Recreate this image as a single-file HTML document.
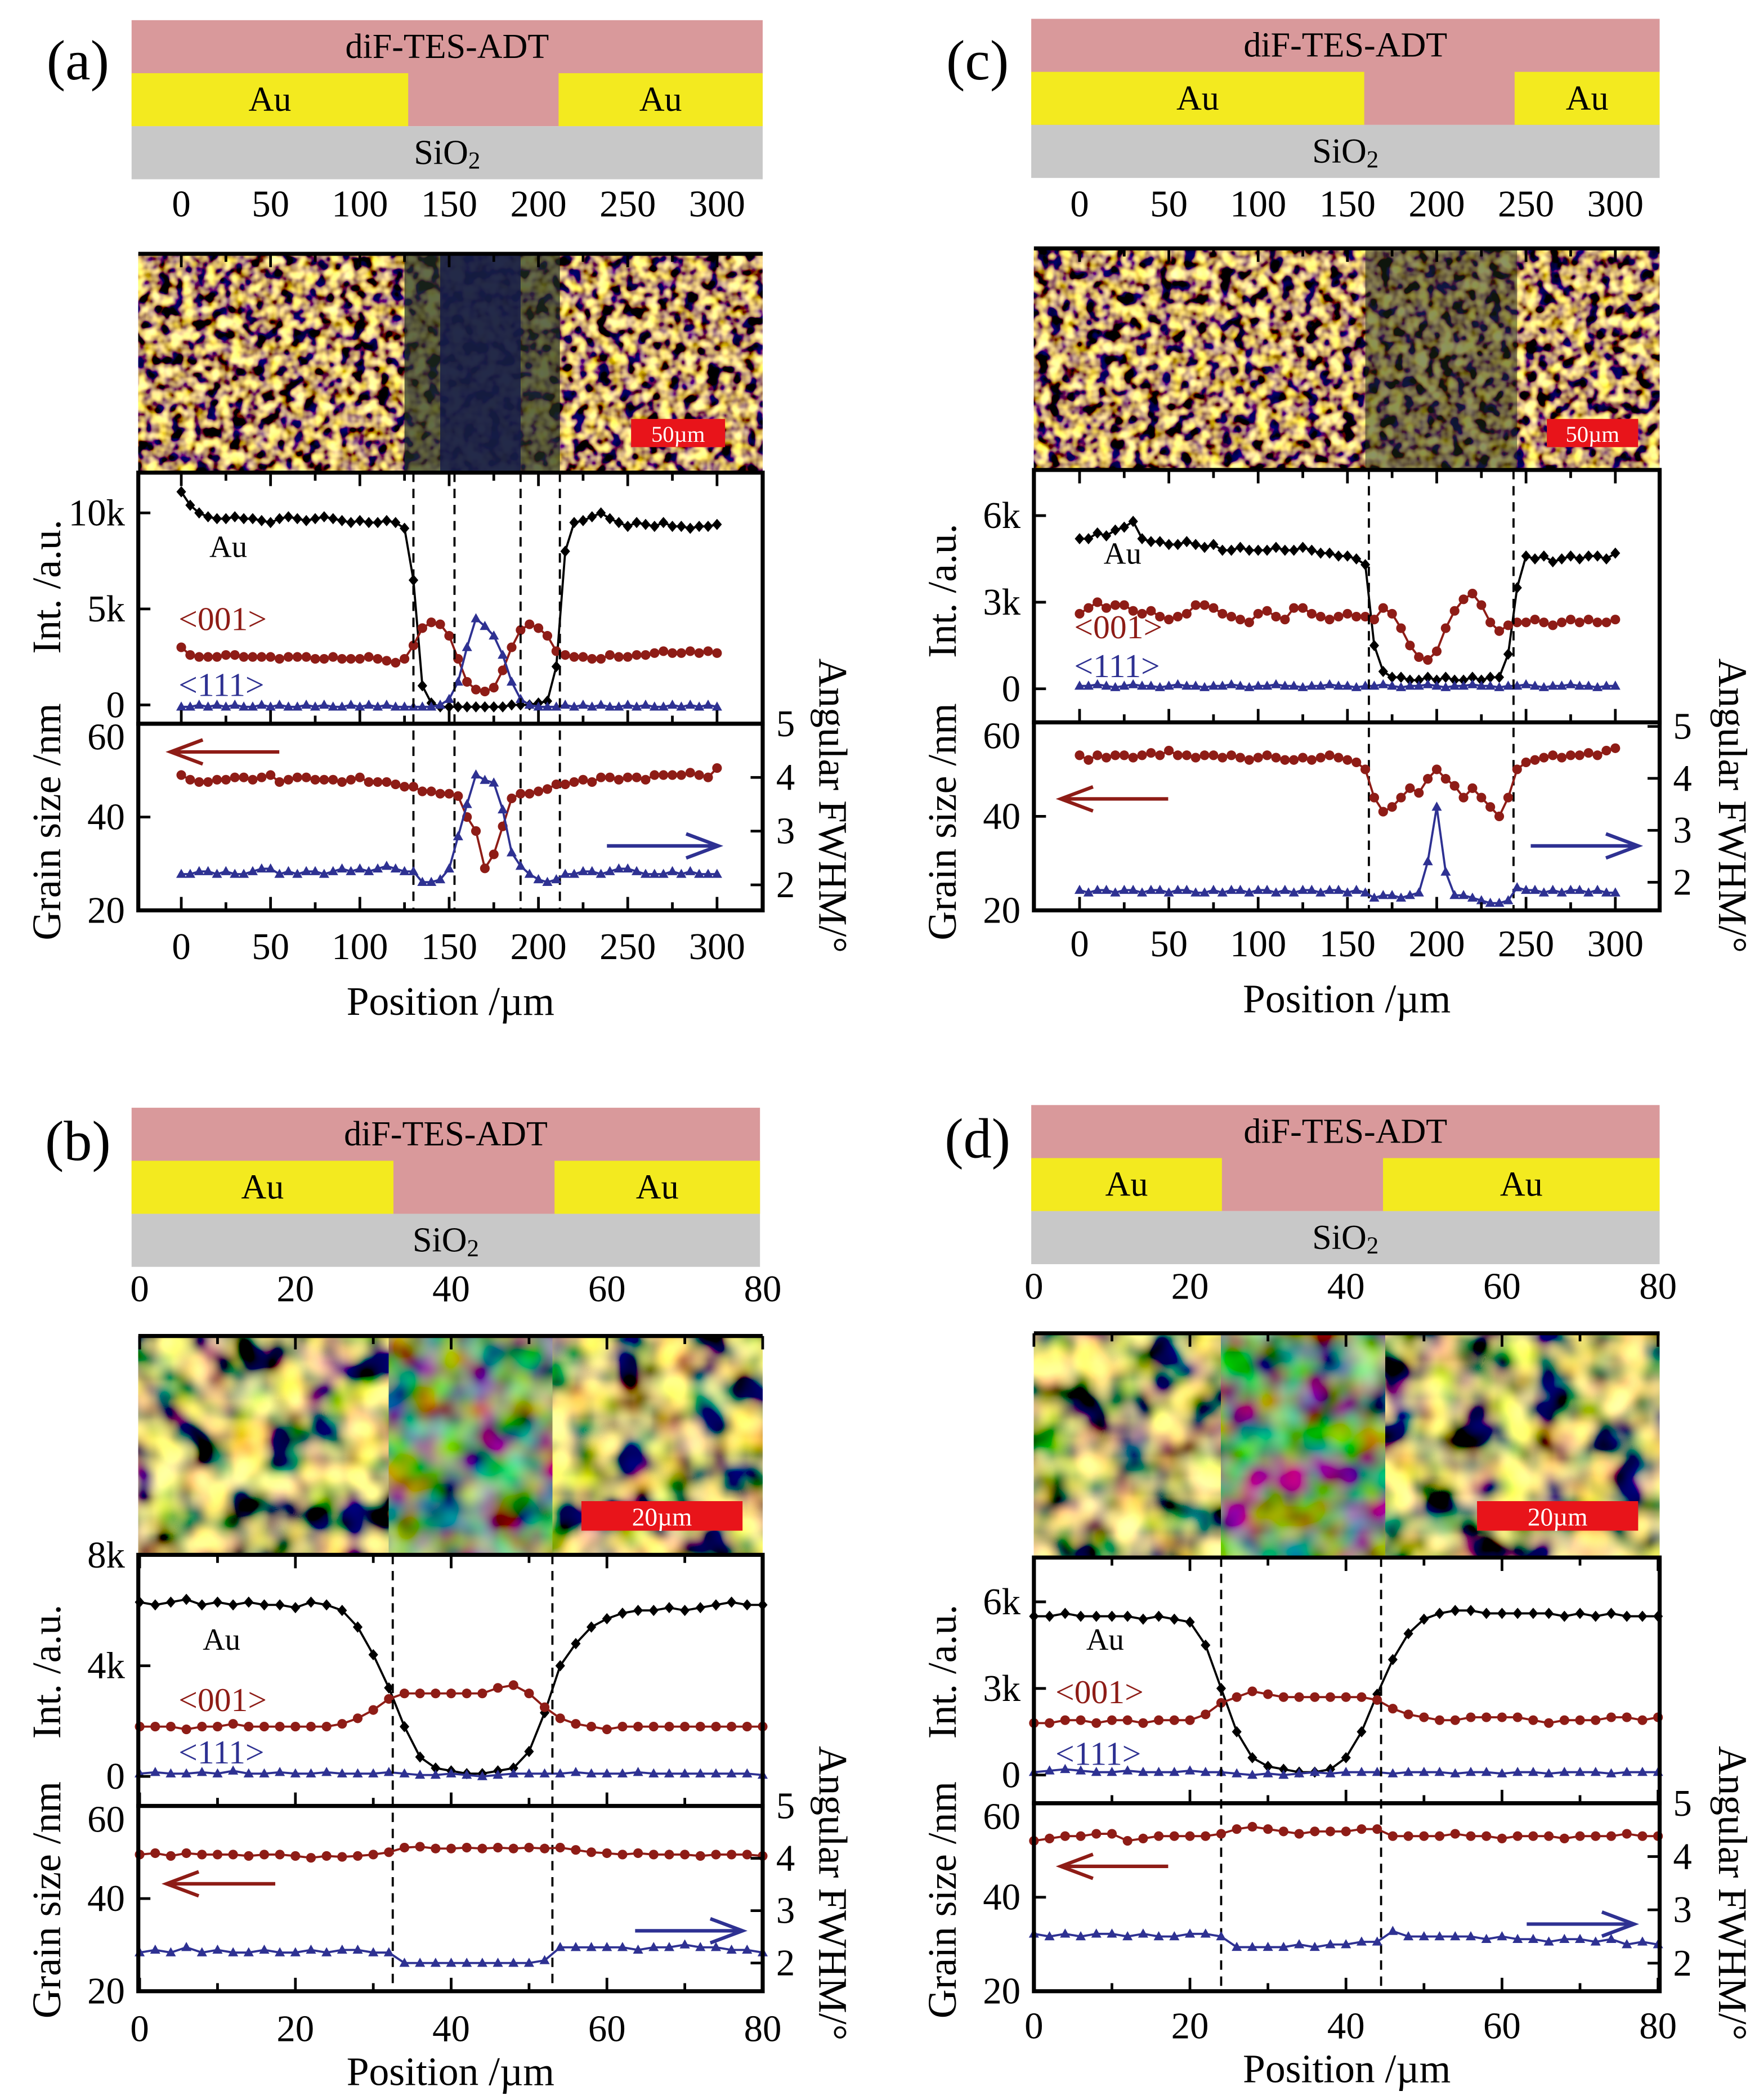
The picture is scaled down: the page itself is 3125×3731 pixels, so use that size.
<!DOCTYPE html>
<html><head><meta charset="utf-8"><style>
html,body{margin:0;padding:0;background:#fff;}
svg{display:block;font-family:"Liberation Serif",serif;}
</style></head><body>
<svg id="fig" xmlns="http://www.w3.org/2000/svg" width="3125" height="3731" viewBox="0 0 1310 1564" font-family="Liberation Serif, serif">
<defs>
<filter id="fineGrain" x="0" y="0" width="1" height="1" filterUnits="objectBoundingBox">
<feTurbulence type="fractalNoise" baseFrequency="0.11" numOctaves="2" seed="4"/>
<feColorMatrix type="matrix" values="3.8 0 0 0 -1.4  3.4 0 0 0 -1.4  0.6 0 0.5 0 -0.42  0 0 0 0 1"/>
</filter>
<filter id="coarseGrain" x="0" y="0" width="1" height="1" filterUnits="objectBoundingBox">
<feTurbulence type="fractalNoise" baseFrequency="0.035" numOctaves="2" seed="7"/>
<feColorMatrix type="matrix" values="3.3 0 0 0 -1.15  2.4 0.9 0 0 -1.2  0.5 0 0.5 0 -0.35  0 0 0 0 1"/>
</filter>
<filter id="darkGrain" x="0" y="0" width="1" height="1" filterUnits="objectBoundingBox">
<feTurbulence type="fractalNoise" baseFrequency="0.035" numOctaves="2" seed="11"/>
<feColorMatrix type="matrix" values="1.1 0 0 0 -0.35  0 1.4 0 0 -0.4  0 0 0.9 0 -0.3  0 0 0 0 1"/>
</filter>
</defs>
</svg>
<script>
// ---------- panel (a) data ----------
const stepA = 5;
const auA = [11.1,10.4,10.0,9.8,9.7,9.7,9.8,9.7,9.7,9.6,9.5,9.7,9.8,9.7,9.6,9.7,9.8,9.7,9.6,9.5,9.6,9.5,9.5,9.6,9.5,9.2,6.5,1.0,0.1,-0.1,-0.1,-0.1,-0.1,-0.1,-0.1,-0.1,-0.1,0,0,0,0.1,0.2,2.0,8.0,9.5,9.6,9.8,10.0,9.7,9.5,9.3,9.5,9.4,9.3,9.5,9.3,9.3,9.2,9.3,9.3,9.4];
const p001A = [3.0,2.6,2.5,2.5,2.5,2.6,2.6,2.5,2.5,2.5,2.5,2.4,2.5,2.5,2.5,2.4,2.4,2.5,2.4,2.4,2.4,2.5,2.4,2.3,2.2,2.4,3.1,4.0,4.3,4.2,3.6,2.4,1.2,0.8,0.7,0.9,1.8,3.0,3.9,4.2,4.0,3.6,2.8,2.6,2.5,2.5,2.4,2.4,2.6,2.5,2.5,2.6,2.6,2.7,2.8,2.7,2.7,2.8,2.7,2.8,2.7];
const p111A = [-0.1,-0.1,0,-0.1,0,-0.1,0,-0.1,-0.1,0,-0.1,0,-0.1,-0.1,0,-0.1,0,-0.1,-0.1,0,-0.1,0,-0.1,0,-0.1,-0.1,-0.1,-0.1,-0.1,0.0,0.3,1.2,3.0,4.5,4.1,3.6,2.6,1.2,0.3,0.0,-0.1,-0.1,-0.1,0,-0.1,0,-0.1,0,-0.1,-0.1,0,-0.1,0,-0.1,-0.1,0,-0.1,0,-0.1,0,-0.1];
const grainA = [49,48,47.5,47.5,48,48,48.5,48.5,48,48.5,49,47.5,48,48.5,48.5,48,48,48,47.5,48,48.5,47.5,47.5,47.5,47,46.5,46.5,45.5,45.5,45,45,44.5,40,37,29,32,38,44,45,45,45.5,46,47,47,47.5,48,47.5,48.5,48.5,48,48.5,48.5,48,49,49,49,49,49.5,49,48.5,50.5];
const fwhmA = [2.2,2.2,2.25,2.25,2.2,2.25,2.2,2.2,2.25,2.3,2.3,2.2,2.25,2.2,2.25,2.25,2.2,2.25,2.3,2.25,2.3,2.25,2.3,2.35,2.3,2.25,2.25,2.05,2.05,2.1,2.3,2.9,3.5,4.05,3.95,3.9,3.4,2.6,2.35,2.2,2.1,2.05,2.1,2.2,2.2,2.25,2.25,2.2,2.25,2.3,2.3,2.25,2.2,2.2,2.2,2.25,2.2,2.25,2.2,2.2,2.2];
const dashA = [130,153,190,212];
// ---------- panel (c) data ----------
const stepC = 5;
const auC = [5.2,5.2,5.4,5.3,5.5,5.6,5.8,5.2,5.1,5.1,5.0,5.0,5.1,5.0,4.9,5.0,4.8,4.8,4.9,4.8,4.8,4.8,4.9,4.8,4.8,4.9,4.8,4.7,4.7,4.6,4.6,4.5,4.3,1.5,0.6,0.4,0.4,0.3,0.3,0.4,0.3,0.4,0.3,0.3,0.4,0.3,0.4,0.4,1.2,3.5,4.6,4.5,4.6,4.4,4.5,4.6,4.5,4.6,4.6,4.5,4.7];
const p001C = [2.6,2.8,3.0,2.8,2.9,2.9,2.7,2.6,2.7,2.5,2.4,2.5,2.6,2.9,2.9,2.8,2.6,2.5,2.4,2.3,2.6,2.7,2.5,2.4,2.8,2.8,2.6,2.5,2.4,2.5,2.6,2.5,2.5,2.4,2.8,2.6,2.1,1.5,1.1,1.0,1.3,2.1,2.7,3.1,3.3,2.9,2.3,2.0,2.2,2.3,2.3,2.4,2.3,2.2,2.3,2.4,2.3,2.4,2.3,2.3,2.4];
const p111C = [0.1,0.1,0.15,0.1,0.05,0.1,0.15,0.1,0.1,0.05,0.1,0.15,0.1,0.1,0.05,0.1,0.1,0.15,0.1,0.05,0.1,0.1,0.15,0.1,0.1,0.05,0.1,0.1,0.15,0.1,0.1,0.05,0.1,0.1,0.15,0.1,0.05,0.1,0.1,0.15,0.1,0.05,0.1,0.1,0.15,0.1,0.1,0.05,0.1,0.1,0.15,0.1,0.05,0.1,0.1,0.15,0.1,0.1,0.05,0.1,0.1];
const grainC = [53,52,53,52.5,53,53,52.5,53,53.5,53,54,53,53,52.5,53,53,52.5,53,52.5,52,52.5,53,52.5,52,52,52.5,52,52.5,53,52.5,52,51.5,50,44,41,42,44,46,45,48,50,48,46.5,44,46,44,42,40,44,50,51.5,52,52.5,53,52.5,53,53,53.5,53,54,54.5];
const fwhmC = [1.85,1.8,1.85,1.85,1.8,1.85,1.85,1.8,1.85,1.85,1.8,1.85,1.85,1.8,1.8,1.85,1.8,1.85,1.85,1.8,1.85,1.85,1.8,1.85,1.8,1.85,1.85,1.8,1.85,1.85,1.8,1.85,1.8,1.7,1.75,1.75,1.7,1.75,1.8,2.4,3.45,2.2,1.75,1.75,1.7,1.65,1.6,1.6,1.65,1.9,1.85,1.85,1.8,1.85,1.8,1.85,1.85,1.8,1.85,1.8,1.8];
const dashC = [162,243];
// ---------- panel (b) data ----------
const stepB = 2;
const auB = [6.3,6.2,6.3,6.4,6.2,6.3,6.2,6.3,6.2,6.2,6.1,6.3,6.2,6.0,5.4,4.4,3.2,1.8,0.7,0.3,0.2,0.1,0.1,0.2,0.3,0.9,2.3,4.0,4.8,5.4,5.7,5.9,6.0,6.0,6.1,6.0,6.1,6.2,6.3,6.2,6.2];
const p001B = [1.8,1.8,1.8,1.7,1.8,1.8,1.9,1.8,1.8,1.8,1.8,1.8,1.8,1.9,2.1,2.4,2.8,3.0,3.0,3.0,3.0,3.0,3.0,3.2,3.3,3.0,2.5,2.1,1.9,1.8,1.7,1.8,1.8,1.8,1.8,1.8,1.8,1.8,1.8,1.8,1.8];
const p111B = [0.1,0.15,0.1,0.1,0.15,0.1,0.2,0.1,0.1,0.15,0.1,0.1,0.15,0.1,0.1,0.1,0.15,0.1,0.05,0.05,0.1,0.05,0.0,0.05,0.1,0.1,0.1,0.1,0.15,0.1,0.1,0.1,0.15,0.1,0.1,0.1,0.1,0.1,0.1,0.1,0.05];
const grainB = [49.5,49.8,49.2,49.8,49.5,49.5,49.5,49.2,49.5,49.5,49.2,48.8,49.2,49,49.2,49.5,50,51,51.2,50.8,50.8,51,50.8,51,50.8,51,50.8,51,50.5,50,49.8,49.5,49.8,49.5,49.5,49.5,49.2,49.5,49.5,49.5,49.2];
const fwhmB = [2.2,2.25,2.2,2.3,2.2,2.25,2.2,2.2,2.25,2.2,2.2,2.25,2.2,2.25,2.25,2.2,2.2,2.0,2.0,2.0,2.0,2.0,2.0,2.0,2.0,2.0,2.05,2.3,2.3,2.3,2.3,2.3,2.25,2.3,2.3,2.35,2.3,2.3,2.25,2.25,2.2];
const dashB = [32.5,53];
// ---------- panel (d) data ----------
const stepD = 2;
const auD = [5.5,5.5,5.6,5.5,5.5,5.5,5.5,5.4,5.5,5.4,5.3,4.5,3.0,1.5,0.6,0.3,0.2,0.1,0.1,0.2,0.6,1.5,2.8,4.0,4.9,5.4,5.6,5.7,5.7,5.6,5.6,5.6,5.6,5.6,5.5,5.6,5.5,5.6,5.5,5.5,5.5];
const p001D = [1.8,1.8,1.9,1.9,1.8,1.9,1.9,1.8,1.9,1.9,1.9,2.1,2.5,2.7,2.9,2.8,2.7,2.7,2.7,2.7,2.7,2.7,2.6,2.3,2.1,2.0,1.9,1.9,2.0,2.0,2.0,2.0,1.9,1.8,1.9,1.9,1.9,2.0,2.0,1.9,2.0];
const p111D = [0.1,0.15,0.2,0.15,0.1,0.1,0.15,0.1,0.1,0.1,0.15,0.1,0.1,0.05,0.0,0.05,0.0,0.05,0.1,0.05,0.1,0.1,0.1,0.05,0.1,0.1,0.1,0.05,0.1,0.1,0.05,0.1,0.1,0.05,0.1,0.1,0.1,0.05,0.1,0.1,0.1];
const grainD = [52,52.5,53,53,53.5,53.5,52,52.5,53,53,53,53,53.5,54.5,55,54.5,54,53.5,54,54,54,54.5,54.5,53,53,53,53,53.5,53,53,52.5,53,53,53,52.5,53,53,53,53.5,53,53];
const fwhmD = [2.55,2.5,2.55,2.5,2.55,2.55,2.5,2.55,2.5,2.5,2.55,2.55,2.5,2.3,2.3,2.3,2.3,2.35,2.3,2.35,2.35,2.4,2.4,2.6,2.5,2.5,2.5,2.5,2.5,2.45,2.5,2.45,2.45,2.4,2.45,2.45,2.4,2.45,2.35,2.4,2.35];
const dashD = [24,44.5];
// ---------- tick labels ----------
const xTicksWide = [0,50,100,150,200,250,300];
const xTicksNarrow = [0,20,40,60,80];
const intTicksA = [0,5,10]; const intLabelsA = ['0','5k','10k'];
const intTicksC = [0,3,6]; const intLabelsC = ['0','3k','6k'];
const intTicksB = [0,4,8]; const intLabelsB = ['0','4k','8k'];
const intTicksD = [0,3,6]; const intLabelsD = ['0','3k','6k'];
const grainTicks = [20,40,60];
const fwhmTicks = [2,3,4,5];

const NS = 'http://www.w3.org/2000/svg';
const svg = document.getElementById('fig');
function mk(tag, attrs, parent){
  const e = document.createElementNS(NS, tag);
  for (const k in attrs) e.setAttribute(k, attrs[k]);
  (parent||svg).appendChild(e);
  return e;
}
const RED = '#8e1c16', BLUE = '#2e3192';
const FS = 28;

function marker(g, shape, x, y, color){
  let m;
  if (shape==='diamond') m = mk('polygon',{points:`${x},${y-4.2} ${x+3.6},${y} ${x},${y+4.2} ${x-3.6},${y}`,fill:color},g);
  else if (shape==='circle') m = mk('circle',{cx:x,cy:y,r:3.6,fill:color},g);
  else m = mk('polygon',{points:`${x},${y-4} ${x+3.8},${y+2.8} ${x-3.8},${y+2.8}`,fill:color},g);
  return m;
}
function series(g, name, step, vals, xf, yf, color, shape){
  const s = mk('g',{},g);
  
  
  const pts = vals.map((v,i)=>[xf(i*step), yf(v)]);
  const line = mk('polyline',{points:pts.map(p=>p.join(',')).join(' '),fill:'none',stroke:color,'stroke-width':1.6},s);
  
  
  pts.forEach(p=>{
    const m = marker(s, shape, p[0], p[1], color);
    
    
  });
}
function text(g, x, y, str, size, anchor, fill, extra){
  const t = mk('text',Object.assign({x:x,y:y,'font-size':size,'text-anchor':anchor||'middle',fill:fill||'#000','dominant-baseline':'central','font-family':'Liberation Serif, serif'},extra||{}),g);
  t.textContent = str;
  return t;
}
function arrow(g, x1, x2, y, color, dir){
  const a = mk('g',{stroke:color,'stroke-width':2.6,fill:'none'},g);
  mk('line',{x1:x1,y1:y,x2:x2,y2:y},a);
  const tip = dir<0? x1 : x2; const d = dir<0? 1 : -1;
  mk('polyline',{points:`${tip+d*24},${y-9} ${tip},${y} ${tip+d*24},${y+9}`},a);
  return a;
}

function panel(c){
  const g = mk('g',{});
  
  
  const X0=c.x0, X1=c.x1;
  const lab = text(g, c.labX, c.labY, '('+c.id+')', 42, 'middle');
  
  
  const sch = mk('g',{},g);
  
  
  const sy=c.schY;
  const pink = mk('rect',{x:c.sx0,y:sy,width:c.sx1-c.sx0,height:c.sh*2,fill:'#d9999b'},sch);
  
  
  const auL = mk('rect',{x:c.sx0,y:sy+c.sh,width:c.gapL-c.sx0,height:c.sh,fill:'#f3ea1f'},sch);
  
  
  const auR = mk('rect',{x:c.gapR,y:sy+c.sh,width:c.sx1-c.gapR,height:c.sh,fill:'#f3ea1f'},sch);
  
  
  const sio = mk('rect',{x:c.sx0,y:sy+2*c.sh,width:c.sx1-c.sx0,height:c.sh,fill:'#c8c8c8'},sch);
  
  
  text(sch,(c.sx0+c.sx1)/2,sy+c.sh*0.5,'diF-TES-ADT',26);
  text(sch,(c.sx0+c.gapL)/2,sy+c.sh*1.5,'Au',26);
  text(sch,(c.gapR+c.sx1)/2,sy+c.sh*1.5,'Au',26);
  const st = text(sch,(c.sx0+c.sx1)/2,sy+c.sh*2.5,'SiO',26);
  const sub = mk('tspan',{'font-size':18,dy:6},st); sub.textContent='2';
  c.xt.forEach(v=>{ text(g,c.xf(v),c.topLabY,String(v),FS); });
  const ph = mk('g',{},g);
  
  
  mk('rect',{x:X0,y:c.phY0,width:X1-X0,height:c.phY1-c.phY0,filter:c.fine?'url(#fineGrain)':'url(#coarseGrain)'},ph);
  const gx0=c.xf(c.photoMid[0]), gx1=c.xf(c.photoMid[1]);
  if (c.fine) {
    mk('rect',{x:gx0,y:c.phY0,width:gx1-gx0,height:c.phY1-c.phY0,fill:c.midColor,opacity:c.midOp},ph);
    if (c.core) mk('rect',{x:c.xf(c.core[0]),y:c.phY0,width:c.xf(c.core[1])-c.xf(c.core[0]),height:c.phY1-c.phY0,fill:'#141a4a',opacity:0.8},ph);
  } else {
    mk('rect',{x:gx0,y:c.phY0,width:gx1-gx0,height:c.phY1-c.phY0,filter:'url(#darkGrain)'},ph);
  }
  mk('line',{x1:X0,y1:c.phY0,x2:X1,y2:c.phY0,stroke:'#000','stroke-width':3},ph);
  c.xtMinor.forEach(v=>{ mk('line',{x1:c.xf(v),y1:c.phY0,x2:c.xf(v),y2:c.phY0+(c.xt.includes(v)?10:6),stroke:'#000','stroke-width':2},ph); });
  const sb = mk('g',{},ph);
  
  
  mk('rect',{x:c.sb[0],y:c.sb[1],width:c.sb[2],height:c.sb[3],fill:'#e8141a'},sb);
  text(sb,c.sb[0]+c.sb[2]/2,c.sb[1]+c.sb[3]/2+1,c.sbText,c.sbFont,'middle','#fff');
  const ip = mk('g',{},g);
  
  
  const iy = v => c.int0 - v*c.intK;
  const gy = v => c.gBot - (v-20)*c.gK;
  const fy = v => c.f5 + (5-v)*c.fK;
  c.dash.forEach(v=>{
    const d = mk('line',{x1:c.xf(v),y1:c.iY0,x2:c.xf(v),y2:c.gBot,stroke:'#000','stroke-width':1.6,'stroke-dasharray':'7,5'},g);
    
    
  });
  series(ip,'series-au',c.step,c.au,c.xf,iy,'#000','diamond');
  series(ip,'series-001',c.step,c.p001,c.xf,iy,RED,'circle');
  series(ip,'series-111',c.step,c.p111,c.xf,iy,BLUE,'triangle');
  c.intT.forEach((v,i)=>{
    text(ip,X0-10,iy(v),c.intL[i],FS,'end');
    mk('line',{x1:X0,y1:iy(v),x2:X0+9,y2:iy(v),stroke:'#000','stroke-width':2},ip);
  });
  text(ip,c.lbl[0],c.lbl[1],'Au',23);
  text(ip,c.lbl[2],c.lbl[3],'<001>',25,'start',RED);
  text(ip,c.lbl[2],c.lbl[4],'<111>',25,'start',BLUE);
  const lp = mk('g',{},g);
  
  
  series(lp,'series-grain-size',c.step,c.grain,c.xf,gy,RED,'circle');
  series(lp,'series-fwhm',c.step,c.fwhm,c.xf,fy,BLUE,'triangle');
  grainTicks.forEach(v=>{
    text(lp,X0-10,Math.min(Math.max(gy(v),c.gTop+10),c.gBot+10),String(v),FS,'end');
    mk('line',{x1:X0,y1:gy(v),x2:X0+9,y2:gy(v),stroke:'#000','stroke-width':2},lp);
  });
  fwhmTicks.forEach(v=>{
    text(lp,X1+10,fy(v),String(v),FS,'start');
    mk('line',{x1:X1,y1:fy(v),x2:X1-9,y2:fy(v),stroke:'#000','stroke-width':2},lp);
  });
  const ra = arrow(lp,c.arrR[0],c.arrR[1],c.arrR[2],RED,-1);
  
  
  const ba = arrow(lp,c.arrB[0],c.arrB[1],c.arrB[2],BLUE,1);
  
  
  c.xtMinor.forEach(v=>{
    const big = c.xt.includes(v)?10:6;
    [c.iY1, c.gBot].forEach(yb=>{
      mk('line',{x1:c.xf(v),y1:yb,x2:c.xf(v),y2:yb-big,stroke:'#000','stroke-width':2},g);
    });
    mk('line',{x1:c.xf(v),y1:c.iY0,x2:c.xf(v),y2:c.iY0+big,stroke:'#000','stroke-width':2},g);
  });
  const fr1 = mk('rect',{x:X0,y:c.iY0,width:X1-X0,height:c.iY1-c.iY0,fill:'none',stroke:'#000','stroke-width':3},g);
  
  
  const fr2 = mk('rect',{x:X0,y:c.iY1,width:X1-X0,height:c.gBot-c.iY1,fill:'none',stroke:'#000','stroke-width':3},g);
  
  
  c.xt.forEach(v=>{ text(g,c.xf(v),c.botLabY,String(v),FS); });
  const xt = text(g,(X0+X1)/2,c.titleY,'Position /µm',30);
  
  
  const t1 = text(g,0,0,'Int. /a.u.',30,'middle','#000',{transform:`translate(${c.ytX},${c.intTitleY}) rotate(-90)`});
  
  
  const t2 = text(g,0,0,'Grain size /nm',30,'middle','#000',{transform:`translate(${c.ytX},${c.grainTitleY}) rotate(-90)`});
  
  
  const t3 = text(g,0,0,'Angular FWHM/°',30,'middle','#000',{transform:`translate(${c.ftX},${c.fwhmTitleY}) rotate(90)`});
  
  
}

const minorWide=[0,25,50,75,100,125,150,175,200,225,250,275,300];
const minorNarrow=[0,10,20,30,40,50,60,70,80];

panel({id:'a',labX:58,labY:45,schY:15,sh:39.5,sx0:98,sx1:568,gapL:304,gapR:416,
  x0:103,x1:568,xf:v=>135+v*1.33,xt:xTicksWide,xtMinor:minorWide,topLabY:152,
  phY0:189,phY1:352,fine:true,photoMid:[125,212],midColor:'#1f2e22',midOp:0.7,core:[145,190],
  sb:[470,312,70,21],sbText:'50µm',sbFont:17,
  iY0:352,iY1:539,int0:525,intK:14.3,intT:intTicksA,intL:intLabelsA,
  gTop:539,gBot:678,gK:3.475,f5:539,fK:40,
  step:stepA,au:auA,p001:p001A,p111:p111A,grain:grainA,fwhm:fwhmA,dash:dashA,
  lbl:[170,407,133,461,510],arrR:[127,208,560],arrB:[452,535,630],
  botLabY:705,titleY:746,ytX:35,intTitleY:437,grainTitleY:612,ftX:620,fwhmTitleY:600});

panel({id:'c',labX:728,labY:45,schY:14,sh:39.5,sx0:768,sx1:1236,gapL:1016,gapR:1128,
  x0:770,x1:1236,xf:v=>804+v*1.33,xt:xTicksWide,xtMinor:minorWide,topLabY:152,
  phY0:185,phY1:350,fine:true,photoMid:[160,245],midColor:'#1c2a18',midOp:0.5,core:null,
  sb:[1152,312,68,21],sbText:'50µm',sbFont:17,
  iY0:350,iY1:538,int0:513,intK:21.5,intT:intTicksC,intL:intLabelsC,
  gTop:538,gBot:678,gK:3.5,f5:541,fK:38.7,
  step:stepC,au:auC,p001:p001C,p111:p111C,grain:grainC,fwhm:fwhmC,dash:dashC,
  lbl:[836,412,800,467,496],arrR:[790,870,595],arrB:[1140,1220,630],
  botLabY:703,titleY:744,ytX:702,intTitleY:440,grainTitleY:612,ftX:1290,fwhmTitleY:600});

panel({id:'b',labX:58,labY:850,schY:825,sh:39.5,sx0:98,sx1:566,gapL:293,gapR:413,
  x0:103,x1:568,xf:v=>104+v*5.8,xt:xTicksNarrow,xtMinor:minorNarrow,topLabY:960,
  phY0:995,phY1:1158,fine:false,photoMid:[32,53],
  sb:[433,1118,120,22],sbText:'20µm',sbFont:19,
  iY0:1158,iY1:1345,int0:1323,intK:20.6,intT:intTicksB,intL:intLabelsB,
  gTop:1345,gBot:1483,gK:3.45,f5:1345,fK:39,
  step:stepB,au:auB,p001:p001B,p111:p111B,grain:grainB,fwhm:fwhmB,dash:dashB,
  lbl:[165,1221,133,1266,1305],arrR:[124,205,1403],arrB:[473,553,1438],
  botLabY:1511,titleY:1543,ytX:35,intTitleY:1245,grainTitleY:1415,ftX:620,fwhmTitleY:1410});

panel({id:'d',labX:728,labY:848,schY:823,sh:39.5,sx0:768,sx1:1236,gapL:910,gapR:1030,
  x0:770,x1:1236,xf:v=>770+v*5.81,xt:xTicksNarrow,xtMinor:minorNarrow,topLabY:958,
  phY0:993,phY1:1160,fine:false,photoMid:[24,45],
  sb:[1100,1118,120,22],sbText:'20µm',sbFont:19,
  iY0:1160,iY1:1343,int0:1322,intK:21.5,intT:intTicksD,intL:intLabelsD,
  gTop:1343,gBot:1483,gK:3.5,f5:1343,fK:39.7,
  step:stepD,au:auD,p001:p001D,p111:p111D,grain:grainD,fwhm:fwhmD,dash:dashD,
  lbl:[823,1221,786,1260,1306],arrR:[790,870,1390],arrB:[1137,1217,1433],
  botLabY:1509,titleY:1541,ytX:702,intTitleY:1245,grainTitleY:1415,ftX:1290,fwhmTitleY:1410});
</script>
</body></html>
